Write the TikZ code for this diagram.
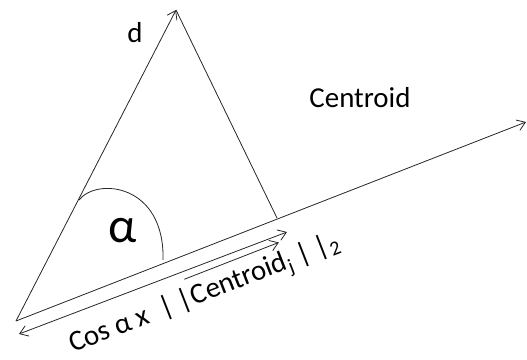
\documentclass[tikz,border=0pt]{standalone}
\usepackage{fontspec}
\setmainfont{Carlito}
\usetikzlibrary{arrows.meta,calc}

\begin{document}
\begin{tikzpicture}[x=1bp,y=1bp,
  ln/.style={line width=0.8bp, black!85},
  tip/.style={ln, -{Straight Barb[length=8bp,width=11bp]}},
  dtip/.style={ln, {Straight Barb[length=8bp,width=11bp]}-{Straight Barb[length=8bp,width=11bp]}},
  lbl/.style={inner sep=0pt, font=\fontsize{29}{31}\selectfont},
  slant/.style={lbl, rotate=21.3, anchor=base west}]
  \useasboundingbox (0,0) rectangle (527,359);
  \coordinate (O) at (16,38);
  \coordinate (apex) at (176,349);
  \coordinate (end) at (526,237);
  \coordinate (foot) at (277,141);
  \coordinate (arcA) at (79,159);
  \coordinate (arcB) at (163,99);
  \coordinate (lenL) at (19,25);
  \coordinate (lenR) at (287,127);
  \draw[tip] (O) -- (apex);
  \draw[ln] (apex) -- (foot);
  \draw[tip] (O) -- (end);
  \draw[ln] (arcA) .. controls (97,182) and (165,175) .. (arcB);
  \draw[dtip] (lenL) -- (lenR);
  \node[lbl] (dlab) at (135,326) {d};
  \node[lbl] (clab) at (360,261) {Centroid};
  \node[lbl, font=\fontsize{50}{52}\selectfont] (alpha) at (123,128) {α};
  \node[slant] (cosx) at (73,6) {Cos α x\ \ | |};
  \node[slant, inner ysep=8bp] (cent) at (cosx.base east) {Centroid};
  \node[slant] (norm) at (cent.base east) {\textsubscript{j} | |\textsubscript{2}};
  \draw[tip] (cent.north west) -- (cent.north east);
\end{tikzpicture}
\end{document}
